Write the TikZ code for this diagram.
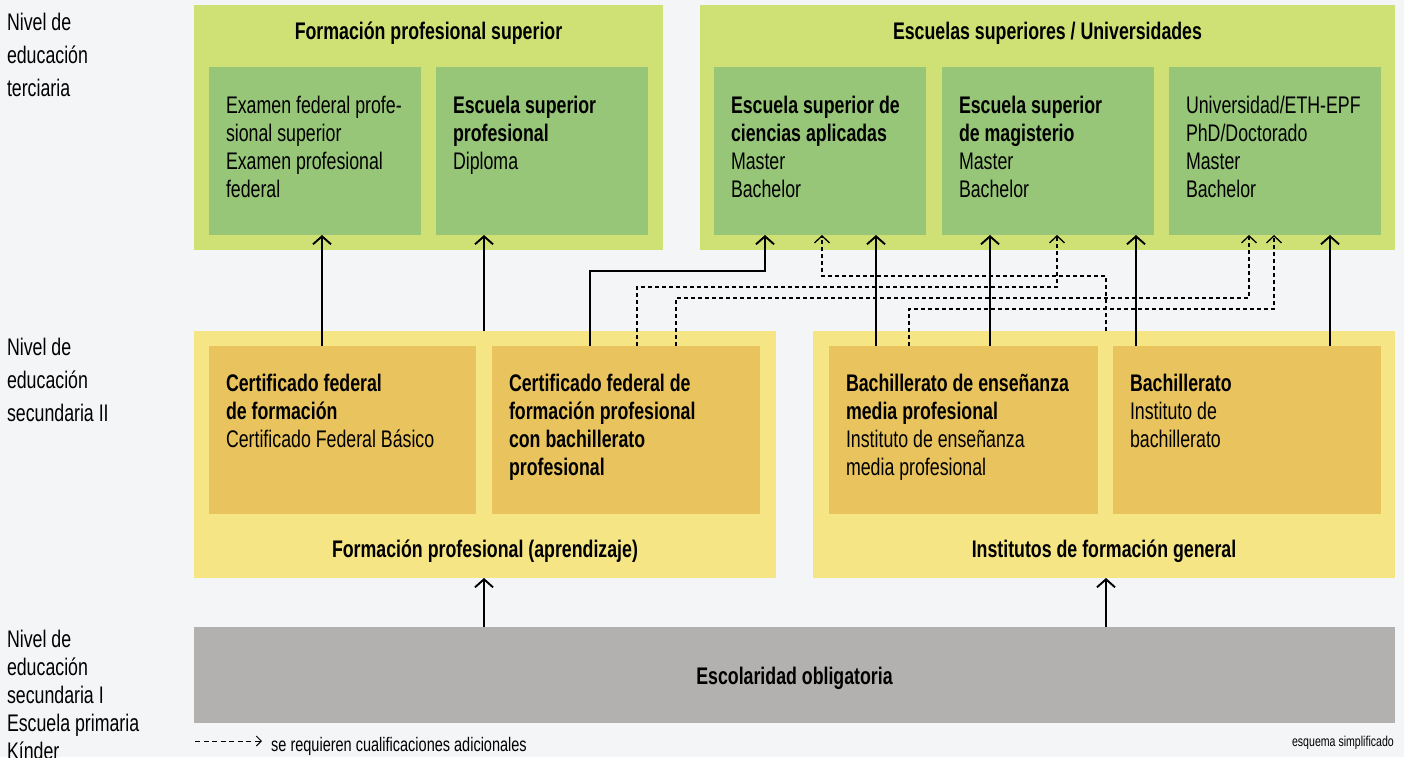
\documentclass[tikz,border=0pt]{standalone}
\usepackage{fontspec}
\setmainfont{Liberation Sans}[FakeStretch=0.74]
\usetikzlibrary{arrows.meta}
\definecolor{bgc}{HTML}{F4F5F7}
\definecolor{lgreen}{HTML}{CFE174}
\definecolor{dgreen}{HTML}{97C679}
\definecolor{lyellow}{HTML}{F5E584}
\definecolor{dorange}{HTML}{E9C45E}
\definecolor{greybox}{HTML}{B2B1AF}
\begin{document}
\begin{tikzpicture}[x=1pt,y=-1pt,
  box/.style={anchor=north west, rectangle, inner sep=0pt, outer sep=0pt, draw=none},
  lbl/.style={anchor=north west, inner sep=0pt, outer sep=0pt, align=left, font=\fontsize{24}{28}\selectfont},
  lvl/.style={anchor=north west, inner sep=0pt, outer sep=0pt, align=left, font=\fontsize{24}{33}\selectfont},
  ttl/.style={anchor=base, inner sep=0pt, font=\fontsize{24}{28}\selectfont\bfseries},
  arr/.style={line width=1.9pt, -{Straight Barb[length=8pt,width=18pt]}},
  darr/.style={line width=1.3pt, dash pattern=on 4pt off 3pt, -{Straight Barb[length=7pt,width=15pt]}},
  legarr/.style={line width=1pt, dash pattern=on 5pt off 3.5pt, -{Straight Barb[length=5pt,width=10pt]}}
]
\fill[bgc] (0,0) rectangle (1404,757);
\useasboundingbox (0,0) rectangle (1404,757);

% tertiary level
\node[box, fill=lgreen, minimum width=469pt, minimum height=245pt] (fps) at (194,5) {};
\node[box, fill=lgreen, minimum width=695pt, minimum height=245pt] (esu) at (700,5) {};
\node[box, fill=dgreen, minimum width=212pt, minimum height=168pt] (g1) at (209,67) {};
\node[box, fill=dgreen, minimum width=212pt, minimum height=168pt] (g2) at (436,67) {};
\node[box, fill=dgreen, minimum width=212pt, minimum height=168pt] (g3) at (714,67) {};
\node[box, fill=dgreen, minimum width=212pt, minimum height=168pt] (g4) at (942,67) {};
\node[box, fill=dgreen, minimum width=212pt, minimum height=168pt] (g5) at (1169,67) {};

% secondary II
\node[box, fill=lyellow, minimum width=582pt, minimum height=247pt] (fp) at (194,331) {};
\node[box, fill=lyellow, minimum width=582pt, minimum height=247pt] (ifg) at (813,331) {};
\node[box, fill=dorange, minimum width=267pt, minimum height=168pt] (o1) at (209,346) {};
\node[box, fill=dorange, minimum width=268pt, minimum height=168pt] (o2) at (492,346) {};
\node[box, fill=dorange, minimum width=269pt, minimum height=168pt] (o3) at (829,346) {};
\node[box, fill=dorange, minimum width=268pt, minimum height=168pt] (o4) at (1113,346) {};

% compulsory
\node[box, fill=greybox, minimum width=1201pt, minimum height=96pt] (eo) at (194,627) {};
\node[ttl] (teo) at ([shift={(0,57.5)}]eo.north) {Escolaridad obligatoria};

% titles
\node[ttl] (tfps) at ([shift={(0,34.5)}]fps.north) {Formación profesional superior};
\node[ttl] (tesu) at ([shift={(0,34.5)}]esu.north) {Escuelas superiores / Universidades};
\node[ttl] (tfp) at ([shift={(0,-21)}]fp.south) {Formación profesional (aprendizaje)};
\node[ttl] (tifg) at ([shift={(0,-21)}]ifg.south) {Institutos de formación general};

% green box texts
\node[lbl] (tg1) at ([shift={(17,26.4)}]g1.north west) {\strut Examen federal profe-\\sional superior\\Examen profesional\\federal};
\node[lbl] (tg2) at ([shift={(17,26.4)}]g2.north west) {\strut\textbf{Escuela superior}\\\textbf{profesional}\\Diploma};
\node[lbl] (tg3) at ([shift={(17,26.4)}]g3.north west) {\strut\textbf{Escuela superior de}\\\textbf{ciencias aplicadas}\\Master\\Bachelor};
\node[lbl] (tg4) at ([shift={(17,26.4)}]g4.north west) {\strut\textbf{Escuela superior}\\\textbf{de magisterio}\\Master\\Bachelor};
\node[lbl] (tg5) at ([shift={(17,26.4)}]g5.north west) {\strut Universidad/ETH-EPF\\PhD/Doctorado\\Master\\Bachelor};

% orange box texts
\node[lbl] (to1) at ([shift={(17,25.4)}]o1.north west) {\strut\textbf{Certificado federal}\\\textbf{de formación}\\Certificado Federal Básico};
\node[lbl] (to2) at ([shift={(17,25.4)}]o2.north west) {\strut\textbf{Certificado federal de}\\\textbf{formación profesional}\\\textbf{con bachillerato}\\\textbf{profesional}};
\node[lbl] (to3) at ([shift={(17,25.4)}]o3.north west) {\strut\textbf{Bachillerato de enseñanza}\\\textbf{media profesional}\\Instituto de enseñanza\\media profesional};
\node[lbl] (to4) at ([shift={(17,25.4)}]o4.north west) {\strut\textbf{Bachillerato}\\Instituto de\\bachillerato};

% level labels
\node[lvl] (lv1) at (7,7.4) {\strut Nivel de\\educación\\terciaria};
\node[lvl] (lv2) at (7,332.4) {\strut Nivel de\\educación\\secundaria II};
\node[lbl] (lv3) at (7,627.4) {\strut Nivel de\\educación\\secundaria I\\Escuela primaria\\Kínder};

% solid arrows
\draw[arr] ([xshift=113pt]o1.north west) -- ([xshift=113pt]g1.south west);
\draw[arr] ([xshift=290pt]fp.north west) -- ([xshift=48pt]g2.south west);
\draw[arr] ([xshift=98pt]o2.north west) -- ++(0,-75) -| ([xshift=51pt]g3.south west);
\draw[arr] ([xshift=47pt]o3.north west) -- ([xshift=162pt]g3.south west);
\draw[arr] ([xshift=161pt]o3.north west) -- ([xshift=48pt]g4.south west);
\draw[arr] ([xshift=23pt]o4.north west) -- ([xshift=194pt]g4.south west);
\draw[arr] ([xshift=217pt]o4.north west) -- ([xshift=161pt]g5.south west);
\draw[arr] ([xshift=290pt]eo.north west) -- ([xshift=290pt]fp.south west);
\draw[arr] ([xshift=293pt]ifg.south west |- eo.north) -- ([xshift=293pt]ifg.south west);

% dashed arrows
\draw[darr] ([xshift=145pt]o2.north west) -- ++(0,-59) -| ([xshift=115pt]g4.south west);
\draw[darr] ([xshift=184pt]o2.north west) -- ++(0,-48) -| ([xshift=80pt]g5.south west);
\draw[darr] ([xshift=80pt]o3.north west) -- ++(0,-37) -| ([xshift=105pt]g5.south west);
\draw[darr] ([xshift=293pt]ifg.north west) -- ++(0,-55) -| ([xshift=108pt]g3.south west);

% legend
\coordinate (la) at (195,741);
\coordinate (lb) at (262,741);
\draw[legarr] (la) -- (lb);
\node[anchor=base west, inner sep=0pt, font=\fontsize{19.6}{24}\selectfont] (lt) at (271,751) {se requieren cualificaciones adicionales};
\node[anchor=base east, inner sep=0pt, font=\fontsize{14.3}{18}\selectfont] (es) at (1394,746) {esquema simplificado};
\end{tikzpicture}
\end{document}
